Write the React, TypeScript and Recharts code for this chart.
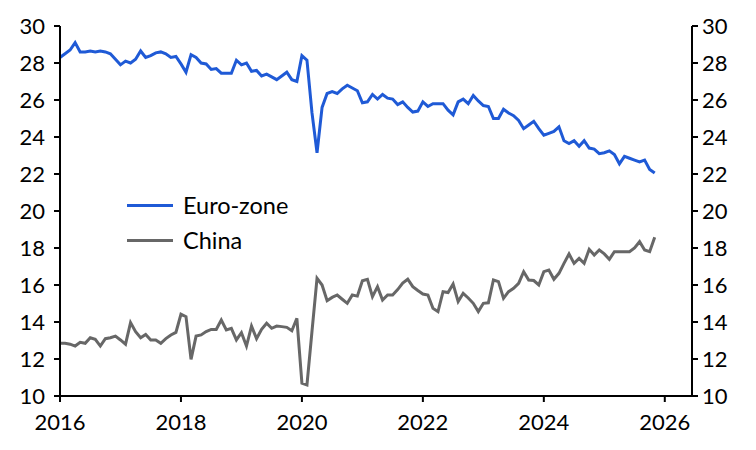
import React from 'react';
import { LineChart, Line, XAxis, YAxis } from 'recharts';

const startYear = 2016;
const euroZone: number[] = [
  28.3, 28.5, 28.7, 29.1, 28.6, 28.6, 28.65, 28.6, 28.65, 28.6, 28.5, 28.2,
  27.9, 28.1, 28.0, 28.2, 28.65, 28.3, 28.4, 28.55, 28.6, 28.5, 28.3, 28.35,
  27.95, 27.5, 28.45, 28.3, 28.0, 27.95, 27.65, 27.7, 27.45, 27.45, 27.45, 28.15,
  27.9, 28.0, 27.55, 27.6, 27.3, 27.4, 27.25, 27.1, 27.3, 27.5, 27.1, 27.0,
  28.4, 28.15, 25.3, 23.15, 25.6, 26.35, 26.45, 26.35, 26.6, 26.8, 26.65, 26.5,
  25.85, 25.9, 26.3, 26.05, 26.3, 26.1, 26.05, 25.75, 25.9, 25.6, 25.35, 25.4,
  25.9, 25.65, 25.8, 25.8, 25.8, 25.45, 25.2, 25.9, 26.05, 25.8, 26.25, 25.95,
  25.7, 25.65, 25.0, 25.0, 25.5, 25.3, 25.15, 24.9, 24.45, 24.65, 24.85, 24.45,
  24.1, 24.2, 24.3, 24.55, 23.8, 23.65, 23.8, 23.5, 23.8, 23.4, 23.35, 23.1,
  23.15, 23.25, 23.05, 22.55, 22.95, 22.85, 22.75, 22.65, 22.75, 22.25, 22.05,
];
const china: number[] = [
  12.85, 12.85, 12.8, 12.7, 12.9, 12.85, 13.15, 13.06, 12.7, 13.1, 13.15, 13.24,
  13.03, 12.8, 13.97, 13.48, 13.15, 13.33, 13.03, 13.03, 12.85, 13.1, 13.3, 13.44,
  14.42, 14.29, 11.98, 13.24, 13.3, 13.48, 13.6, 13.6, 14.11, 13.57, 13.66, 13.03,
  13.42, 12.7, 13.78, 13.1, 13.6, 13.93, 13.66, 13.78, 13.75, 13.71, 13.53, 14.2,
  10.69, 10.6, 13.5, 16.36, 16.0, 15.15, 15.33, 15.46, 15.23, 15.01, 15.46, 15.4,
  16.23, 16.31, 15.37, 15.91, 15.19, 15.46, 15.46, 15.75, 16.1, 16.31, 15.91, 15.7,
  15.51, 15.46, 14.74, 14.56, 15.64, 15.59, 16.05, 15.1, 15.55, 15.3, 15.01, 14.56,
  15.01, 15.04, 16.27, 16.18, 15.28, 15.64, 15.82, 16.09, 16.72, 16.27, 16.24, 16.0,
  16.72, 16.81, 16.31, 16.63, 17.17, 17.68, 17.17, 17.44, 17.17, 17.93, 17.62, 17.89,
  17.68, 17.39, 17.8, 17.8, 17.8, 17.8, 18.0, 18.34, 17.89, 17.8, 18.58,
];
const xTicks: number[] = [2016, 2018, 2020, 2022, 2024, 2026];
const yTicks: number[] = [10, 12, 14, 16, 18, 20, 22, 24, 26, 28, 30];
const seriesNames: string[] = ['Euro-zone', 'China'];

const data = euroZone.map((v, i) => ({ t: startYear + i / 12, euro: v, china: china[i] }));

const FONT = 'Lato, "Open Sans", sans-serif';
const BLUE = '#1f5ad6';
const GREY = '#676767';
const tickStyle = { fill: '#000', fontSize: 22, fontFamily: FONT };
const axisStroke = { stroke: '#000', strokeWidth: 2 };

export default function App() {
  return (
    <div style={{ position: 'absolute', left: 0, top: 0, width: 756, height: 450, background: '#fff' }}>
      <LineChart width={756} height={450} data={data} margin={{ top: 26, right: 0, left: 0, bottom: 0 }}>
        <XAxis
          dataKey="t"
          type="number"
          domain={[2016, 2026.45]}
          ticks={xTicks}
          tick={tickStyle}
          tickSize={6}
          tickMargin={12}
          height={54}
          axisLine={axisStroke}
          tickLine={axisStroke}
          allowDataOverflow
        />
        <YAxis
          yAxisId="left"
          orientation="left"
          domain={[10, 30]}
          ticks={yTicks}
          tick={tickStyle}
          width={60}
          tickSize={6}
          tickMargin={9}
          axisLine={axisStroke}
          tickLine={axisStroke}
          interval={0}
        />
        <YAxis
          yAxisId="right"
          orientation="right"
          domain={[10, 30]}
          ticks={yTicks}
          tick={tickStyle}
          width={64}
          tickSize={6}
          tickMargin={4}
          axisLine={axisStroke}
          tickLine={axisStroke}
          interval={0}
        />
        <Line yAxisId="left" type="linear" dataKey="euro" stroke={BLUE} strokeWidth={3} dot={false} isAnimationActive={false} />
        <Line yAxisId="right" type="linear" dataKey="china" stroke={GREY} strokeWidth={3} dot={false} isAnimationActive={false} />
      </LineChart>
      <div style={{ position: 'absolute', left: 127, top: 189, fontFamily: FONT, fontSize: 23.5, color: '#000' }}>
        {[{ name: seriesNames[0], color: BLUE }, { name: seriesNames[1], color: GREY }].map((s) => (
          <div key={s.name} style={{ display: 'flex', alignItems: 'center', height: 32, marginBottom: 3 }}>
            <span style={{ display: 'inline-block', width: 46, height: 3, background: s.color, marginRight: 10 }} />
            <span>{s.name}</span>
          </div>
        ))}
      </div>
    </div>
  );
}
